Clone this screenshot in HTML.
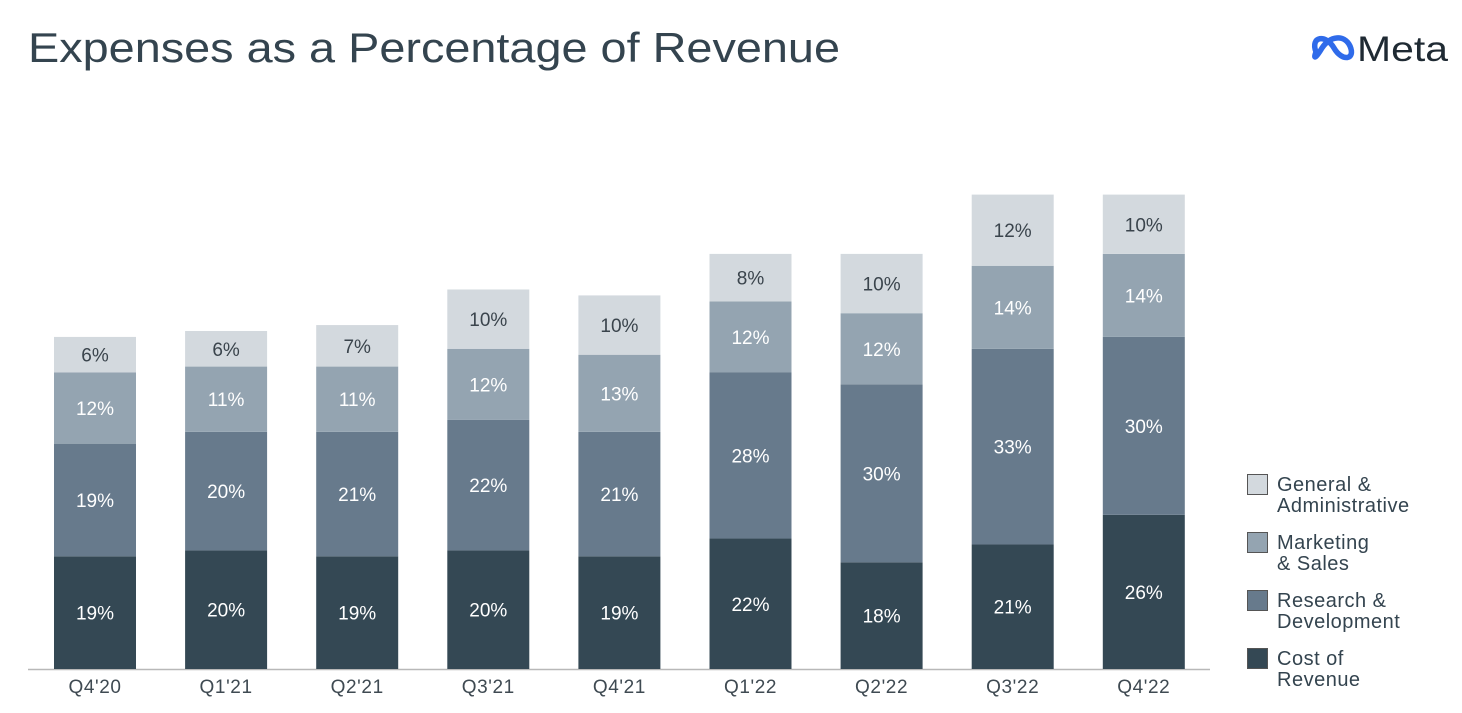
<!DOCTYPE html>
<html><head><meta charset="utf-8"><style>
body{margin:0;background:#fff;}
svg{display:block;font-family:"Liberation Sans",sans-serif;}
</style></head><body>
<svg id="chart" width="1462" height="713" viewBox="0 0 1462 713">
<text x="28" y="62" font-size="42" fill="#34444f" textLength="812" lengthAdjust="spacingAndGlyphs">Expenses as a Percentage of Revenue</text>
<g>
<path d="M1316,52 C1310,36 1326,34 1334,48 C1342,62 1356,60 1350,46 C1344,34 1330,36 1322,48 C1316,58 1313,60 1316,52 Z" fill="none" stroke="#2f6bea" stroke-width="5.5"/>
<text x="1357" y="61" font-size="35" fill="#1f2a33" textLength="91" lengthAdjust="spacingAndGlyphs">Meta</text>
</g>
<line x1="28" y1="669.5" x2="1210" y2="669.5" stroke="#b8b8b8" stroke-width="1.5"/>
<g id="bars"></g>
<g id="legend"></g>
</svg>
<script>
const categories=["Q4'20","Q1'21","Q2'21","Q3'21","Q4'21","Q1'22","Q2'22","Q3'22","Q4'22"];
const costOfRevenue=[19,20,19,20,19,22,18,21,26];
const researchDev=[19,20,21,22,21,28,30,33,30];
const marketingSales=[12,11,11,12,13,12,12,14,14];
const generalAdmin=[6,6,7,10,10,8,10,12,10];
const series=[
 {name:"cost-of-revenue",vals:costOfRevenue,color:"#344854",text:"#fff",label:["Cost of","Revenue"]},
 {name:"research-development",vals:researchDev,color:"#677a8c",text:"#fff",label:["Research &","Development"]},
 {name:"marketing-sales",vals:marketingSales,color:"#94a4b1",text:"#fff",label:["Marketing","& Sales"]},
 {name:"general-admin",vals:generalAdmin,color:"#d3d9de",text:"#3a444c",label:["General &","Administrative"]}
];
const NS="http://www.w3.org/2000/svg";
const base=669, pxPer=5.93, x0=95, step=131.1, bw=82;
const yScale=v=>base-v*pxPer;
const xScale=i=>x0+i*step;
const g=document.getElementById('bars');
categories.forEach((c,i)=>{
  let acc=0;
  series.forEach(s=>{
    const v=s.vals[i];
    const y1=yScale(acc+v), y0=yScale(acc);
    const r=document.createElementNS(NS,'rect');
    r.setAttribute('x',xScale(i)-bw/2);r.setAttribute('y',y1);
    r.setAttribute('width',bw);r.setAttribute('height',y0-y1);
    r.setAttribute('fill',s.color);
    
    
    g.appendChild(r);
    const t=document.createElementNS(NS,'text');
    t.setAttribute('x',xScale(i));t.setAttribute('y',(y0+y1)/2+7);
    t.setAttribute('text-anchor','middle');t.setAttribute('font-size','19');
    t.setAttribute('fill',s.text);t.textContent=v+'%';
    
    
    g.appendChild(t);
    acc+=v;
  });
  const l=document.createElementNS(NS,'text');
  l.setAttribute('x',xScale(i));l.setAttribute('y',693);
  l.setAttribute('text-anchor','middle');l.setAttribute('font-size','19');
  l.setAttribute('letter-spacing','0.6');
  l.setAttribute('fill','#3f4a52');l.textContent=c;
  
  
  g.appendChild(l);
});
const lg=document.getElementById('legend');
[...series].reverse().forEach((s,k)=>{
  const y=474+k*58;
  const r=document.createElementNS(NS,'rect');
  r.setAttribute('x',1247.5);r.setAttribute('y',y+0.5);r.setAttribute('width',20);r.setAttribute('height',20);
  r.setAttribute('fill',s.color);r.setAttribute('stroke','#555');r.setAttribute('stroke-width','1');
  
  
  lg.appendChild(r);
  s.label.forEach((ln,j)=>{
    const t=document.createElementNS(NS,'text');
    t.setAttribute('x',1277);t.setAttribute('y',y+17+j*21);
    t.setAttribute('font-size','20');t.setAttribute('fill','#34444f');
    t.setAttribute('letter-spacing','0.5');
    t.textContent=ln;
    
    
    lg.appendChild(t);
  });
});
</script>
</body></html>
